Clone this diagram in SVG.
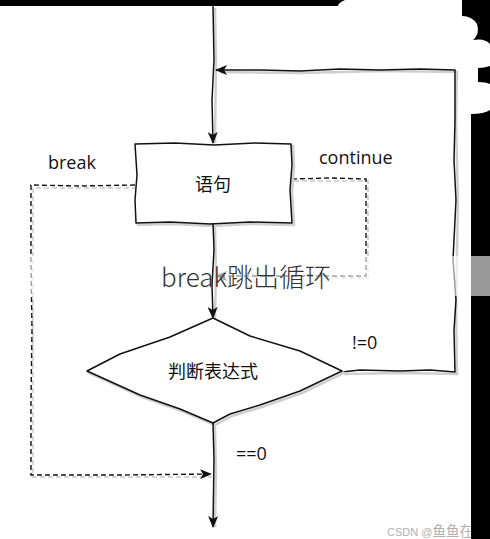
<svg xmlns="http://www.w3.org/2000/svg" width="490" height="539" viewBox="0 0 490 539">
<style>
.ln{fill:none;stroke:#111;stroke-width:1.5;stroke-linejoin:round}
.dash{fill:none;stroke:#111;stroke-width:1.4;stroke-dasharray:5 3}
.sh{fill:none;stroke:#cfcfcf;stroke-width:2.5}
.shd{fill:none;stroke:#d6d6d6;stroke-width:2;stroke-dasharray:5 3}
.lbl{font-family:"Open Sans","Liberation Sans",sans-serif;font-size:18px;fill:#111}
.cn{font-family:"Noto Sans CJK SC","Noto Sans",sans-serif;font-size:18px;fill:#111}
</style>
<defs>
<marker id="ah" viewBox="0 0 12 10" refX="11" refY="5" markerWidth="12" markerHeight="10" markerUnits="userSpaceOnUse" orient="auto">
<path d="M0,0 L12,5 L0,10 L3,5 Z" fill="#111"/>
</marker>
</defs>
<rect width="490" height="539" fill="#fff"/>

<g id="connectors">
<g transform="translate(2,2)">
<path class="sh" d="M213,6 L214,60 L213,141"/>
<path class="sh" d="M342,372 L400,371 L455,372 L454,300 L456,200 L454,120 L455,70 L380,69 L300,71 L218,70"/>
<path class="shd" d="M135,186 L31,186 L31,475 L210,475"/>
<path class="shd" d="M292,179 L366,179 L366,276 L330,276"/>
</g>
<path class="ln" d="M213,6 L214,60 L212,100 L213,143" marker-end="url(#ah)"/>
<path class="ln" d="M342,372 L360,370 L400,371 L430,370 L455,372 L454,330 L456,300 L453,260 L456,200 L454,160 L455,120 L455,70 L420,69 L380,70 L340,69 L300,71 L260,70 L216,70" marker-end="url(#ah)"/>
<path class="dash" d="M135,185 L80,186 L31,185 L31,260 L32,330 L31,400 L31,475 L120,475 L211,474" marker-end="url(#ah)"/>
<path class="dash" d="M292,179 L330,178 L366,179 L366,230 L366,276 L300,276 L216,276" marker-end="url(#ah)"/>
</g>

<g id="node-statement">
<path class="sh" transform="translate(2,2)" d="M135,144 L175,143 L214,145 L255,143 L291,144 L292,165 L290,190 L292,223 L250,222 L210,224 L170,222 L136,223 L135,200 L137,175 Z"/>
<path class="ln" style="fill:#fff" d="M135,144 L175,143 L214,145 L255,143 L291,144 L292,165 L290,190 L292,223 L250,222 L210,224 L170,222 L136,223 L135,200 L137,175 Z"/>
<text class="cn" x="213" y="191" text-anchor="middle">语句</text>
</g>

<g id="node-condition">
<path class="sh" transform="translate(2,2)" d="M213,318 L250,336 L300,351 L342,371 L300,391 L260,405 L230,414 L213,423 L180,409 L140,395 L87,371 L120,354 L170,337 Z"/>
<path class="ln" style="fill:#fff" d="M213,318 L250,336 L300,351 L342,371 L300,391 L260,405 L230,414 L213,423 L180,409 L140,395 L87,371 L120,354 L170,337 Z"/>
<text class="cn" x="213" y="378" text-anchor="middle">判断表达式</text>
</g>

<g id="labels">
<text class="lbl" x="48" y="169">break</text>
<text class="lbl" x="319" y="164">continue</text>
<text class="lbl" x="352" y="349">!=0</text>
<text class="lbl" x="236" y="460">==0</text>
</g>

<g id="overlay">
<rect x="0" y="256" width="490" height="40" fill="#fff" fill-opacity="0.6"/>
<g id="flow-down">
<path class="sh" transform="translate(2,2)" d="M213,223 L214,270 L213,316"/>
<path class="ln" d="M213,223 L214,250 L212,285 L213,318" marker-end="url(#ah)"/>
<path class="sh" transform="translate(2,2)" d="M213,423 L214,470 L213,525"/>
<path class="ln" d="M213,423 L214,460 L213,527" marker-end="url(#ah)"/>
</g>
<text x="161" y="287" font-family="Noto Sans CJK SC, Noto Sans, sans-serif" font-size="26" font-weight="300" fill="#333">break跳出循环</text>
</g>

<g id="frame">
<path d="M0,0 H345 Q338,3 338,6 H0 Z" fill="#000"/>
<rect x="462" y="0" width="28" height="539" fill="#000"/>
<rect x="471" y="256" width="19" height="40" fill="#999"/>
<path d="M462,16 Q472,16 477,24 Q480,34 473,40 Q485,38 490,44 V66 Q484,68 478,68 V82 Q486,82 490,84 V110 Q484,114 471,114 V539 H462 Z" fill="#fff"/>
<text x="387" y="536" font-family="Liberation Sans, Noto Sans CJK SC, sans-serif" font-size="11" fill="#b0b0b0">CSDN @<tspan font-family="Noto Sans CJK SC, sans-serif" font-size="13.5">鱼鱼在加</tspan></text>
<rect x="471" y="296" width="19" height="243" fill="#000"/>
</g>
</svg>
